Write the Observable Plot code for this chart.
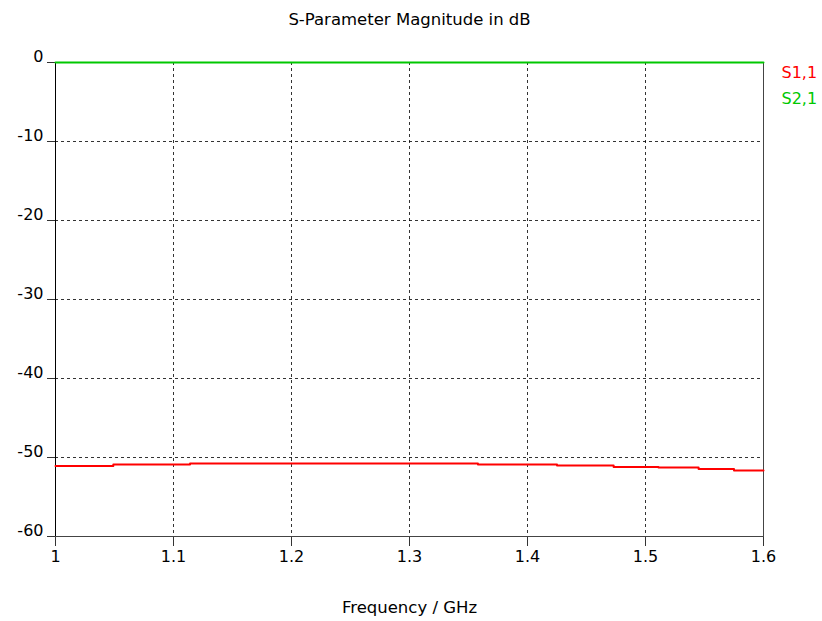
<!DOCTYPE html>
<html><head><meta charset="utf-8">
<script src="https://cdn.jsdelivr.net/npm/d3@7"></script>
<script src="https://cdn.jsdelivr.net/npm/@observablehq/plot@0.6"></script>
<style>body{margin:0;background:#fff}</style>
</head><body><div id="chart"></div>
<script>
const title = "S-Parameter Magnitude in dB";
const xLabel = "Frequency / GHz";
const seriesNames = ["S1,1", "S2,1"];
const seriesColors = ["#ff0000", "#00c800"];
// S1,1 (step values)
const s11Freq = [1.0, 1.049, 1.114, 1.358, 1.425, 1.473, 1.511, 1.545, 1.575, 1.6];
const s11dB   = [-51.08, -50.89, -50.76, -50.89, -51.01, -51.2, -51.27, -51.46, -51.65, -51.65];
// S2,1
const s21Freq = [1.0, 1.6];
const s21dB   = [0, 0];
const xTicks = [1, 1.1, 1.2, 1.3, 1.4, 1.5, 1.6];
const yTicks = [0, -10, -20, -30, -40, -50, -60];

const s11 = s11Freq.map((f, i) => ({f, v: s11dB[i]}));
const s21 = s21Freq.map((f, i) => ({f, v: s21dB[i]}));

const font = "DejaVu Sans, Verdana, sans-serif";
const chart = Plot.plot({
  width: 822, height: 621,
  marginLeft: 55, marginRight: 59, marginTop: 62, marginBottom: 85,
  style: {fontFamily: font, fontSize: "16px", color: "#000", background: "#fff"},
  x: {domain: [1, 1.6]},
  y: {domain: [-60, 0]},
  marks: [
    Plot.gridX(xTicks.slice(1, -1), {stroke: "#000", strokeOpacity: 0.8, strokeDasharray: "3,3"}),
    Plot.gridY(yTicks.slice(1, -1), {stroke: "#000", strokeOpacity: 0.8, strokeDasharray: "3,3"}),
    Plot.axisX({ticks: xTicks, tickSize: 10, tickPadding: 4, tickFormat: d => String(d), label: null, stroke: "#333", fontSize: 16}),
    Plot.axisY({ticks: yTicks, tickSize: 8, tickFormat: () => "", label: null, stroke: "#333"}),
    Plot.text(yTicks, {x: 1, y: d => d, text: d => String(d), dx: -12, dy: -6, textAnchor: "end", fontSize: 16, fill: "#000"}),
    Plot.frame({stroke: "#444"}),
    Plot.ruleX([1], {stroke: "#000"}),
    Plot.line(s11, {x: "f", y: "v", stroke: seriesColors[0], strokeWidth: 2, curve: "step-after"}),
    Plot.line(s21, {x: "f", y: "v", stroke: seriesColors[1], strokeWidth: 2}),
    Plot.text([title], {frameAnchor: "top", dy: -49, text: d => d, fontSize: 16.5, fill: "#000"}),
    Plot.text([xLabel], {frameAnchor: "bottom", dy: 76, text: d => d, fontSize: 16.5, fill: "#000"}),
    Plot.text([seriesNames[0]], {frameAnchor: "top-right", dx: 18, dy: 4, text: d => d, fill: seriesColors[0], textAnchor: "start", fontSize: 16}),
    Plot.text([seriesNames[1]], {frameAnchor: "top-right", dx: 18, dy: 30, text: d => d, fill: seriesColors[1], textAnchor: "start", fontSize: 16})
  ]
});
document.getElementById("chart").appendChild(chart);
</script></body></html>
